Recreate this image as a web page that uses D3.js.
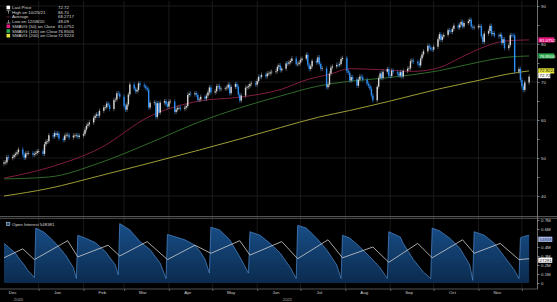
<!DOCTYPE html>
<html>
<head>
<meta charset="utf-8">
<script src="https://cdn.jsdelivr.net/npm/d3@7"></script>
<style>
  body { margin: 0; background: #000; }
  svg { display: block; font-family: "Liberation Sans", Arial, sans-serif; }
</style>
</head>
<body>
<div id="chart"></div>
<script>
// daily closes, one array per month (weekdays in order)
const closesDec20 = [48.84, 48.86, 50.25, 49.97, 50.29, 50.76, 51.08, 51.50, 52.26, 50.91, 50.08, 51.20, 51.29, 51.29, 50.86, 51.09, 51.34, 51.80];
const closesJan21 = [51.80, 51.09, 53.60, 54.30, 54.38, 55.99, 55.66, 56.58, 56.06, 56.42, 55.10, 54.75, 55.90, 56.08, 56.10, 55.41, 55.88, 55.91, 56.00, 55.53, 55.88];
const closesFeb21 = [56.35, 57.46, 58.46, 58.84, 59.34, 60.56, 61.09, 61.47, 61.14, 62.43, 63.30, 63.35, 64.34, 63.93, 62.91, 65.24, 65.37, 67.04, 66.88, 66.13];
const closesMar21 = [63.69, 62.70, 64.07, 66.74, 69.36, 68.24, 67.52, 67.90, 69.63, 69.22, 68.88, 68.39, 68.00, 63.28, 64.53, 64.62, 60.79, 64.41, 61.95, 64.57, 64.98, 64.14, 63.54];
const closesApr21 = [64.86, 64.86, 62.15, 62.74, 63.16, 63.20, 62.95, 63.28, 63.67, 66.58, 66.94, 66.77, 67.05, 66.57, 65.32, 65.40, 66.11, 65.65, 66.42, 67.27, 68.56, 67.25];
const closesMay21 = [67.56, 68.88, 68.96, 68.09, 68.28, 68.32, 68.55, 69.32, 67.05, 68.71, 69.46, 68.71, 66.66, 65.11, 66.44, 68.46, 68.65, 68.87, 69.46, 69.63, 69.32];
const closesJun21 = [70.25, 71.35, 71.31, 71.89, 71.49, 72.22, 72.22, 72.52, 72.69, 72.86, 73.99, 74.39, 73.08, 73.51, 74.90, 74.81, 75.19, 75.56, 76.18, 74.68, 74.76, 75.13];
const closesJul21 = [75.84, 76.17, 77.16, 74.53, 73.43, 74.12, 75.55, 75.16, 76.49, 74.76, 73.47, 73.59, 68.62, 69.35, 72.23, 73.79, 74.10, 74.50, 74.48, 74.74, 76.05, 76.33];
const closesAug21 = [72.89, 72.41, 70.38, 71.29, 70.70, 69.04, 70.63, 71.44, 71.31, 70.59, 69.51, 69.03, 68.23, 66.45, 65.18, 68.75, 71.05, 72.25, 71.07, 72.70, 73.41, 71.63];
const closesSep21 = [71.59, 73.03, 72.61, 72.22, 71.69, 72.60, 71.45, 72.92, 73.51, 73.60, 75.46, 75.67, 75.34, 74.92, 74.36, 76.19, 77.25, 78.09, 79.53, 79.09, 78.64, 78.52];
const closesOct21 = [79.28, 81.26, 82.56, 81.08, 81.95, 82.39, 83.65, 83.42, 83.18, 84.00, 84.86, 84.33, 85.08, 85.82, 84.61, 85.53, 85.99, 86.40, 84.58, 84.32, 84.38];
const closesNov21 = [84.71, 84.72, 81.99, 80.54, 82.74, 83.43, 84.78, 82.64, 82.87, 82.17, 82.05, 82.43, 80.28, 81.24, 78.89, 79.70, 82.31, 82.25, 82.22, 72.72, 73.44, 70.57];
const closesDec21 = [68.87, 67.90, 69.88, 71.40];

const monthStarts = ["2020-12-08", "2021-01-01", "2021-02-01", "2021-03-01", "2021-04-01", "2021-05-01",
  "2021-06-01", "2021-07-01", "2021-08-01", "2021-09-01", "2021-10-01", "2021-11-01", "2021-12-01"];
const closeMonths = [closesDec20, closesJan21, closesFeb21, closesMar21, closesApr21, closesMay21,
  closesJun21, closesJul21, closesAug21, closesSep21, closesOct21, closesNov21, closesDec21];

// moving averages
const sma50 = [["2020-12-08", 44.7], ["2021-01-08", 47.5], ["2021-02-12", 52.5], ["2021-03-19", 61.0], ["2021-04-22", 65.0],
  ["2021-05-20", 66.0], ["2021-06-17", 68.0], ["2021-07-07", 70.8], ["2021-07-21", 72.0], ["2021-08-04", 73.5],
  ["2021-08-27", 73.2], ["2021-09-17", 72.8], ["2021-10-05", 73.8], ["2021-10-20", 76.5], ["2021-11-02", 78.8],
  ["2021-11-20", 80.8], ["2021-12-06", 81.08]];
const sma100 = [["2020-12-08", 44.5], ["2021-01-08", 45.0], ["2021-02-12", 48.7], ["2021-03-19", 54.0], ["2021-04-22", 59.5],
  ["2021-05-20", 63.2], ["2021-06-17", 66.3], ["2021-07-14", 69.0], ["2021-08-04", 70.2], ["2021-08-27", 71.0],
  ["2021-10-05", 73.0], ["2021-11-02", 75.3], ["2021-11-20", 76.5], ["2021-12-06", 76.85]];
const sma200 = [["2020-12-08", 40.0], ["2021-01-08", 42.0], ["2021-02-12", 45.3], ["2021-03-19", 48.7], ["2021-04-22", 52.1],
  ["2021-05-20", 55.0], ["2021-06-17", 58.0], ["2021-07-14", 60.8], ["2021-08-04", 62.5], ["2021-09-01", 65.0],
  ["2021-10-05", 68.2], ["2021-11-02", 70.5], ["2021-11-20", 72.0], ["2021-12-06", 72.92]];

// open interest (millions) and the second, white series
const openInterest = [
  ["2020-12-08", 0.44], ["2020-12-11", 0.40], ["2020-12-16", 0.33], ["2020-12-18", 0.28], ["2020-12-22", 0.20], ["2020-12-24", 0.15], ["2020-12-29", 0.06],
  ["2020-12-30", 0.61], ["2021-01-05", 0.56], ["2021-01-11", 0.47], ["2021-01-15", 0.40], ["2021-01-20", 0.30], ["2021-01-25", 0.17], ["2021-01-27", 0.05],
  ["2021-01-28", 0.53], ["2021-02-02", 0.50], ["2021-02-09", 0.45], ["2021-02-16", 0.35], ["2021-02-23", 0.20], ["2021-02-25", 0.09],
  ["2021-02-26", 0.66], ["2021-03-05", 0.59], ["2021-03-12", 0.46], ["2021-03-19", 0.37], ["2021-03-26", 0.22], ["2021-03-30", 0.05],
  ["2021-03-31", 0.54], ["2021-04-06", 0.51], ["2021-04-12", 0.48], ["2021-04-19", 0.42], ["2021-04-23", 0.34], ["2021-04-26", 0.26], ["2021-04-29", 0.11],
  ["2021-04-30", 0.62], ["2021-05-06", 0.59], ["2021-05-13", 0.48], ["2021-05-20", 0.29], ["2021-05-26", 0.11],
  ["2021-05-27", 0.57], ["2021-06-03", 0.53], ["2021-06-10", 0.44], ["2021-06-17", 0.33], ["2021-06-24", 0.17], ["2021-06-28", 0.05],
  ["2021-06-29", 0.64], ["2021-07-05", 0.61], ["2021-07-12", 0.50], ["2021-07-19", 0.37], ["2021-07-26", 0.20], ["2021-07-29", 0.05],
  ["2021-07-30", 0.53], ["2021-08-04", 0.50], ["2021-08-11", 0.40], ["2021-08-18", 0.29], ["2021-08-25", 0.17], ["2021-08-30", 0.05],
  ["2021-08-31", 0.57], ["2021-09-08", 0.51], ["2021-09-10", 0.44], ["2021-09-17", 0.26], ["2021-09-24", 0.12], ["2021-09-29", 0.05],
  ["2021-09-30", 0.61], ["2021-10-05", 0.58], ["2021-10-12", 0.50], ["2021-10-19", 0.39], ["2021-10-26", 0.20], ["2021-10-28", 0.03],
  ["2021-10-29", 0.57], ["2021-11-05", 0.53], ["2021-11-12", 0.44], ["2021-11-19", 0.29], ["2021-11-26", 0.14], ["2021-11-29", 0.05],
  ["2021-11-30", 0.50], ["2021-12-03", 0.52], ["2021-12-06", 0.53]
];
const whiteLine = [
  ["2020-12-08", 0.28], ["2020-12-21", 0.38], ["2020-12-29", 0.26], ["2021-01-21", 0.47], ["2021-01-28", 0.29], ["2021-02-18", 0.42],
  ["2021-02-26", 0.30], ["2021-03-17", 0.46], ["2021-03-31", 0.26], ["2021-04-19", 0.42], ["2021-04-30", 0.33], ["2021-05-20", 0.47],
  ["2021-05-27", 0.31], ["2021-06-18", 0.46], ["2021-06-29", 0.27], ["2021-07-20", 0.48], ["2021-07-30", 0.28], ["2021-08-20", 0.40],
  ["2021-08-31", 0.23], ["2021-09-20", 0.44], ["2021-09-30", 0.28], ["2021-10-21", 0.48], ["2021-10-29", 0.33], ["2021-11-16", 0.44],
  ["2021-11-29", 0.26], ["2021-12-06", 0.27]
];

const legendLabels = ["Last Price", "High on 10/25/21", "Average", "Low on 12/08/20",
  "SMAVG (50)  on Close", "SMAVG (100)  on Close", "SMAVG (200)  on Close"];
const legendValues = ["72.72", "86.70", "68.2717", "48.09", "81.0752", "76.8506", "72.9224"];
const priceTicks = [40, 50, 60, 70, 80, 90];
const oiTicks = [0, 0.1, 0.2, 0.3, 0.4, 0.6, 0.7];
const oiTickLabels = ["0", "0.1M", "0.2M", "0.3M", "0.4M", "0.6M", "0.7M"];
const monthLabels = ["Dec", "Jan", "Feb", "Mar", "Apr", "May", "Jun", "Jul", "Aug", "Sep", "Oct", "Nov"];
const yearLabels = [["2020", "2020-12-18"], ["2021", "2021-06-22"]];

const parse = d3.timeParse("%Y-%m-%d");

function weekdaysFrom(start, n) {
  const out = [];
  const d = parse(start);
  while (out.length < n) {
    const w = d.getDay();
    if (w !== 0 && w !== 6) out.push(new Date(d));
    d.setDate(d.getDate() + 1);
  }
  return out;
}

const candles = [];
closeMonths.forEach((arr, m) => {
  const days = weekdaysFrom(monthStarts[m], arr.length);
  arr.forEach((c, i) => candles.push({ date: days[i], close: c }));
});
candles.forEach((d, i) => {
  d.open = i ? candles[i - 1].close : 48.5;
});

const width = 557;
const height = 302;
const svg = d3.select("#chart").append("svg").attr("width", width).attr("height", height);
svg.append("rect").attr("width", width).attr("height", height).attr("fill", "#000");

const x = d3.scaleTime().domain([parse("2020-12-08"), parse("2021-12-08")]).range([4, 532]);
const yP = d3.scaleLinear().domain([40, 90]).range([196, 6]);
const yOI = d3.scaleLinear().domain([0, 0.7]).range([283, 220]);
const axisX = 537.5;

const defs = svg.append("defs");
defs.append("clipPath").attr("id", "clipTop").append("rect").attr("x", 0).attr("y", 1).attr("width", axisX).attr("height", 214);
defs.append("clipPath").attr("id", "clipBot").append("rect").attr("x", 0).attr("y", 219).attr("width", axisX).attr("height", 70);

// grid
const monthStartsAll = d3.timeMonth.range(parse("2021-01-01"), parse("2021-12-08"));
const grid = svg.append("g");
grid.selectAll(".vg").data(monthStartsAll).join("line")
  .attr("x1", (d) => x(d)).attr("x2", (d) => x(d))
  .attr("y1", 1).attr("y2", 289)
  .attr("stroke", "#2a2a2a").attr("stroke-width", 0.6);
grid.selectAll(".hg").data(priceTicks).join("line")
  .attr("x1", 0).attr("x2", axisX)
  .attr("y1", (d) => yP(d)).attr("y2", (d) => yP(d))
  .attr("stroke", "#2e2e2e").attr("stroke-width", 0.6);

// top panel
const pricePanel = svg.append("g").attr("clip-path", "url(#clipTop)");

const maLine = d3.line().x((d) => x(parse(d[0]))).y((d) => yP(d[1])).curve(d3.curveMonotoneX);
[[sma200, "#b0ae3a"], [sma100, "#34762c"], [sma50, "#8e1f48"]].forEach(([data, color]) => {
  pricePanel.append("path").attr("d", maLine(data)).attr("fill", "none").attr("stroke", color).attr("stroke-width", 0.9);
});

const upColor = "#d6d6d6";
const downColor = "#2f8ef2";
const candleG = pricePanel.selectAll(".candle").data(candles).join("g");
candleG.append("line")
  .attr("x1", (d) => x(d.date)).attr("x2", (d) => x(d.date))
  .attr("y1", (d) => yP(Math.max(d.open, d.close) + 0.6))
  .attr("y2", (d) => yP(Math.min(d.open, d.close) - 0.6))
  .attr("stroke", (d) => (d.close >= d.open ? "#a0a0a0" : downColor))
  .attr("stroke-width", 0.5);
candleG.append("rect")
  .attr("x", (d) => x(d.date) - 0.7)
  .attr("width", 1.4)
  .attr("y", (d) => yP(Math.max(d.open, d.close)))
  .attr("height", (d) => Math.max(0.6, Math.abs(yP(d.open) - yP(d.close))))
  .attr("fill", (d) => (d.close >= d.open ? upColor : downColor));

// bottom panel
const oiPanel = svg.append("g").attr("clip-path", "url(#clipBot)");
const grad = defs.append("linearGradient").attr("id", "oiFill").attr("x1", 0).attr("x2", 0).attr("y1", 0).attr("y2", 1);
grad.append("stop").attr("offset", "0%").attr("stop-color", "#184e88");
grad.append("stop").attr("offset", "100%").attr("stop-color", "#0b2b4e");

oiPanel.append("path")
  .attr("d", d3.area().x((d) => x(parse(d[0]))).y0(yOI(0)).y1((d) => yOI(d[1]))(openInterest))
  .attr("fill", "url(#oiFill)");
oiPanel.append("path")
  .attr("d", d3.line().x((d) => x(parse(d[0]))).y((d) => yOI(d[1]))(openInterest))
  .attr("fill", "none").attr("stroke", "#4f8bd0").attr("stroke-width", 0.7);
oiPanel.append("path")
  .attr("d", d3.line().x((d) => x(parse(d[0]))).y((d) => yOI(d[1]))(whiteLine))
  .attr("fill", "none").attr("stroke", "#cfcfcf").attr("stroke-width", 0.8);

// frame lines
svg.append("line").attr("x1", axisX).attr("x2", axisX).attr("y1", 0).attr("y2", 289).attr("stroke", "#bdbdbd").attr("stroke-width", 0.6);
svg.append("line").attr("x1", 0).attr("x2", width).attr("y1", 216.5).attr("y2", 216.5).attr("stroke", "#8c8c8c").attr("stroke-width", 0.6);
svg.append("line").attr("x1", 0).attr("x2", width).attr("y1", 218.3).attr("y2", 218.3).attr("stroke", "#8c8c8c").attr("stroke-width", 0.6);
svg.append("line").attr("x1", 0).attr("x2", axisX).attr("y1", 289).attr("y2", 289).attr("stroke", "#8c8c8c").attr("stroke-width", 0.6);

// right axes
const axisText = "#cfcfcf";
const rTop = svg.append("g").attr("transform", `translate(${axisX},0)`)
  .call(d3.axisRight(yP).tickValues(d3.range(40, 91, 5)).tickSize(2).tickFormat((d) => (d % 10 === 0 ? d : "")));
const rBot = svg.append("g").attr("transform", `translate(${axisX},0)`)
  .call(d3.axisRight(yOI).tickValues(oiTicks).tickSize(2).tickFormat((d, i) => oiTickLabels[i]));
[rTop, rBot].forEach((g) => {
  g.select(".domain").remove();
  g.selectAll("line").attr("stroke", "#bdbdbd").attr("stroke-width", 0.6);
  g.selectAll("text").attr("fill", axisText).attr("font-size", 4.4).attr("x", 3.5);
});

// bottom time axis
const bx = svg.append("g").attr("transform", "translate(0,289)")
  .call(d3.axisBottom(x).tickValues(monthStartsAll).tickSize(2).tickFormat(""));
bx.select(".domain").remove();
bx.selectAll("line").attr("stroke", "#8c8c8c").attr("stroke-width", 0.6);

const monthMids = d3.timeMonth.range(parse("2020-12-01"), parse("2021-12-01")).map((d) => new Date(d.getFullYear(), d.getMonth(), 14));
svg.selectAll(".ml").data(monthMids).join("text")
  .attr("x", (d) => x(d)).attr("y", 294)
  .attr("text-anchor", "middle").attr("font-size", 4.4).attr("fill", axisText)
  .text((d, i) => monthLabels[i]);
svg.selectAll(".yl").data(yearLabels).join("text")
  .attr("x", (d) => x(parse(d[1]))).attr("y", 300.5)
  .attr("text-anchor", "middle").attr("font-size", 4.2).attr("fill", "#aaaaaa")
  .text((d) => d[0]);

// value tags on the right
function tag(yPos, text, bg, fg, w) {
  const g = svg.append("g");
  g.append("rect").attr("x", axisX + 0.8).attr("y", yPos - 2.6).attr("width", w).attr("height", 5.2).attr("fill", bg);
  g.append("text").attr("x", axisX + 2).attr("y", yPos + 1.6).attr("font-size", 4.4).attr("fill", fg).text(text);
}
tag(yP(81.0752), "81.0752", "#e8177f", "#ffffff", 16);
tag(yP(76.8506), "76.8506", "#2aa84a", "#ffffff", 16);
tag(yP(72.9224), "72.9224", "#e6e63a", "#000000", 16);
tag(yP(72.72) + 4, "72.72", "#ffffff", "#000000", 12);
tag(yOI(openInterest[openInterest.length - 1][1]) + 4, "548381", "#a8b8e6", "#1b2f66", 14);
tag(yOI(whiteLine[whiteLine.length - 1][1]) + 1.5, "272914", "#ffffff", "#000000", 14);

// legend
const lg = svg.append("g");
const rowY = (i) => 7.5 + i * 4.7;
legendLabels.forEach((label, i) => {
  const y = rowY(i);
  lg.append("text").attr("x", 12).attr("y", y + 1.5).attr("font-size", 4.4).attr("fill", "#d8d8d8").text(label);
  lg.append("text").attr("x", 58).attr("y", y + 1.5).attr("font-size", 4.4).attr("fill", "#d8d8d8").text(legendValues[i]);
});
const sq = (i, color) => lg.append("rect").attr("x", 6.5).attr("y", rowY(i) - 1.8).attr("width", 3.6).attr("height", 3.6).attr("fill", color);
sq(0, "#ffffff");
sq(4, "#e8177f");
sq(5, "#2aa84a");
sq(6, "#e6e63a");
lg.append("path").attr("d", `M6.5,${rowY(1) - 1.5}h4M8.5,${rowY(1) - 1.5}v3`).attr("stroke", "#cccccc").attr("stroke-width", 0.6);
lg.append("path").attr("d", `M6.5,${rowY(2)}h4`).attr("stroke", "#c0508a").attr("stroke-width", 0.7).attr("stroke-dasharray", "1,0.8");
lg.append("path").attr("d", `M6.5,${rowY(3) + 1.5}h4M8.5,${rowY(3) + 1.5}v-3`).attr("stroke", "#cccccc").attr("stroke-width", 0.6);

// lower legend
lg.append("rect").attr("x", 6.5).attr("y", 222.2).attr("width", 3.4).attr("height", 3.4).attr("fill", "#164a82").attr("stroke", "#dddddd").attr("stroke-width", 0.5);
lg.append("text").attr("x", 12).attr("y", 225.6).attr("font-size", 4.4).attr("fill", "#d8d8d8").text("Open Interest  548381");
</script>
</body>
</html>
